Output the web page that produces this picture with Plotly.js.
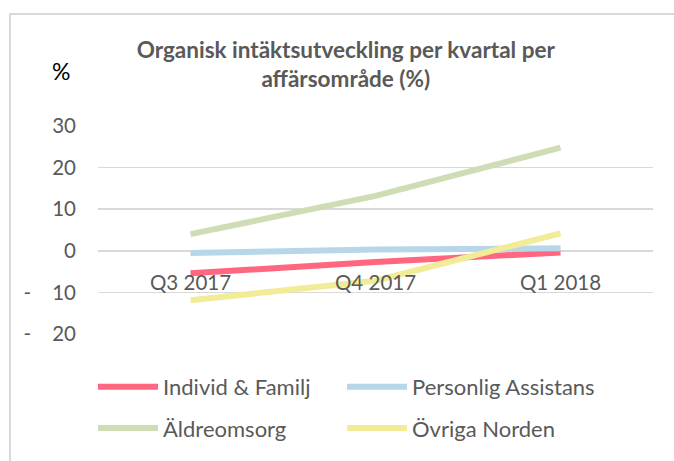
<!DOCTYPE html>
<html>
<head>
<meta charset="utf-8">
<script src="https://cdn.plot.ly/plotly-3.0.1.min.js"></script>
<style>
  html, body { margin: 0; padding: 0; background: #ffffff; }
  #wrap { position: relative; width: 674px; height: 461px; overflow: hidden; }
  #frame { position: absolute; left: 9px; top: 13px; width: 700px; height: 500px;
           border-left: 2px solid #d9d9d9; border-top: 2px solid #d9d9d9; box-sizing: border-box; }
  #chart { position: absolute; left: 0; top: 0; width: 674px; height: 461px; }
</style>
</head>
<body>
<div id="wrap">
  <div id="frame"></div>
  <div id="chart"></div>
</div>
<script>
const categories = ["Q3 2017", "Q4 2017", "Q1 2018"];
const seriesNames = ["Individ & Familj", "Personlig Assistans", "Äldreomsorg", "Övriga Norden"];
const individFamilj = [-5.4, -2.7, -0.4];
const personligAssistans = [-0.5, 0.3, 0.6];
const aldreomsorg = [4.0, 13.2, 24.8];
const ovrigaNorden = [-11.9, -7.2, 4.2];
const yTickValues = [-20, -10, 0, 10, 20, 30];
const yTickLabels = ["-\u00a0\u00a0\u00a0\u00a020", "-\u00a0\u00a0\u00a0\u00a010", "0", "10", "20", "30"];
const chartTitle = "Organisk intäktsutveckling per kvartal per<br>affärsområde (%)";
const unitLabel = "%";

const colors = ["#ff6680", "#b7d7e8", "#cfddb7", "#f2ec99"];
const seriesValues = [individFamilj, personligAssistans, aldreomsorg, ovrigaNorden];
const legendIds = ["legend", "legend2", "legend3", "legend4"];

const traces = seriesValues.map((vals, i) => ({
  type: "scatter",
  mode: "lines",
  x: categories,
  y: vals,
  name: seriesNames[i],
  legend: legendIds[i],
  line: { color: colors[i], width: 6 },
  hoverinfo: "skip"
}));

const font = "Lato, 'Open Sans', sans-serif";
function legendAt(col, row) {
  return {
    orientation: "v",
    xref: "paper", yref: "paper",
    xanchor: "left", yanchor: "middle",
    x: col === 0 ? -0.009 : -0.009 + 249 / 555,
    y: row === 0 ? -54 / 212 : -96 / 212,
    font: { family: font, size: 22, color: "#595959" },
    bgcolor: "rgba(0,0,0,0)",
    itemwidth: 60
  };
}

const layout = {
  width: 674, height: 461,
  margin: { l: 98, r: 21, t: 126, b: 123, pad: 0 },
  paper_bgcolor: "rgba(0,0,0,0)",
  plot_bgcolor: "rgba(0,0,0,0)",
  showlegend: true,
  title: {
    text: chartTitle,
    font: { family: font, size: 22.5, color: "#595959", weight: "bold" },
    xref: "container", x: 0.513, xanchor: "center",
    yref: "container", y: 1 - 58 / 461, yanchor: "top"
  },
  xaxis: {
    type: "category",
    range: [-0.5, 2.5],
    anchor: "free", position: 0.4,
    showgrid: false, zeroline: false, showline: false,
    ticks: "", ticklabelstandoff: 18,
    tickfont: { family: font, size: 20.5, color: "#595959" },
    fixedrange: true
  },
  yaxis: {
    range: [-20, 30],
    tickvals: yTickValues,
    ticktext: yTickLabels,
    showgrid: true, gridcolor: "#d9d9d9", gridwidth: 1.5,
    zeroline: false, showline: false,
    ticks: "", ticklabelstandoff: 21,
    tickfont: { family: font, size: 20.5, color: "#595959" },
    fixedrange: true
  },
  legend: legendAt(0, 0),
  legend2: legendAt(1, 0),
  legend3: legendAt(0, 1),
  legend4: legendAt(1, 1),
  annotations: [{
    text: unitLabel, showarrow: false,
    xref: "paper", yref: "paper",
    x: (61 - 98) / 555, y: (338 - 70) / 212,
    xanchor: "center", yanchor: "middle",
    font: { family: font, size: 23, color: "#000000" }
  }]
};

Plotly.newPlot("chart", traces, layout, { displayModeBar: false, staticPlot: true });
</script>
</body>
</html>
